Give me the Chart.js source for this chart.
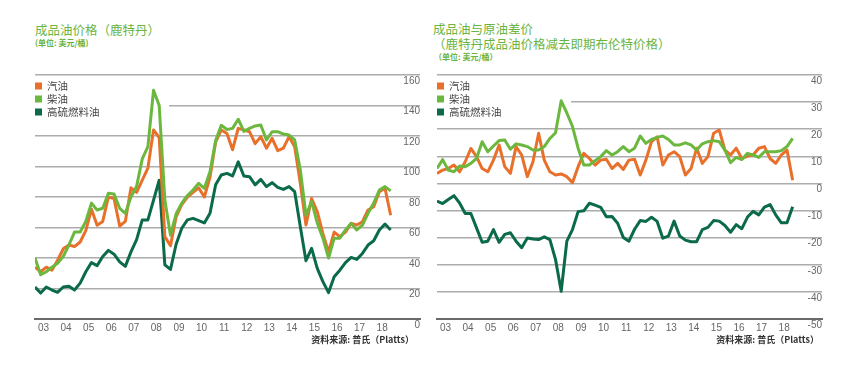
<!DOCTYPE html>
<html>
<head>
<meta charset="utf-8">
<script src="https://cdn.jsdelivr.net/npm/chart.js@4.4.0/dist/chart.umd.min.js"></script>
<style>
  body { margin: 0; width: 865px; height: 369px; background: #fff; position: relative; overflow: hidden;
         font-family: "Noto Sans CJK SC", "Noto Sans", sans-serif; }
  .title { position: absolute; color: #6ab43f; font-size: 12.5px; line-height: 15px; white-space: nowrap; }
  .unit { position: absolute; color: #6ab43f; font-size: 8px; line-height: 10px; white-space: nowrap; font-weight: bold; }
  .src { position: absolute; color: #333; font-size: 9px; line-height: 11px; white-space: nowrap; text-align: right; font-weight: bold; }
  canvas { position: absolute; top: 0; }
</style>
</head>
<body>
<div class="title" style="left:35px; top:22px;">成品油价格（鹿特丹）</div>
<div class="unit" style="left:35px; top:38px;">(单位: 美元/桶)</div>
<div class="title" style="left:433px; top:21px;">成品油与原油差价<br>（鹿特丹成品油价格减去即期布伦特价格）</div>
<div class="unit" style="left:434px; top:52px;">（单位: 美元/桶）</div>

<canvas id="leftChart" width="430" height="369" style="left:0"></canvas>
<canvas id="rightChart" width="435" height="369" style="left:430px"></canvas>

<div class="src" style="right:451px; top:334px;">资料来源: 普氏（Platts）</div>
<div class="src" style="right:46px; top:334px;">资料来源: 普氏（Platts）</div>

<script>
// quarterly, 2003Q1 .. 2018Q4
const quarters = [];
for (let y = 2003; y <= 2018; y++) for (let q = 1; q <= 4; q++) quarters.push(y + 'Q' + q);
const yearTicks = ['03','04','05','06','07','08','09','10','11','12','13','14','15','16','17','18'];
const seriesNames = ['汽油', '柴油', '高硫燃料油'];

// left: product prices, Rotterdam (USD/bbl)
const leftGasoline = [34,31,34,32,38.5,46,48.5,47.5,50.5,58, 72,61.5,64,80,79,61,64,86,83,91,
  99,124,119,54,48,67,75,80,83,86, 80,93,116,124,121.7,111,125,124,122.8,115,
  119.6,112,118.5,110.4,112,119.6,113,89,61.6,79, 70.4,56,44,57,54,57,62.7,61.6,63.8,71.5, 73.6,83.5,85.7,68];
const leftDiesel = [40,29,31,34,36.5,41,48.5,57,57,64, 76,71.5,72.6,82.4,82,72.6,69.3,80,87,105,
  113,150,140,78,55,69,76,81,84.6,89, 85.7,96.6,117,127,124.3,125,131,123,125,126.6,
  127.2,117.4,122.8,122.8,121.3,120.6,117.4,97.7,68,77, 63,53,40,53,53,58.4,62.7,58.4,61.6,69.3, 76,84.6,86.8,84];
const leftFuelOil = [21,17,21,19,17.5,21,21.5,19,23.5,31, 37,35,41,45,42.5,37.5,34.5,44,52,65,
  65,78,91,35.5,32.5,49,59.5,65,66,64.5, 63,69.3,88,94.4,95.5,93.8,103,93.8,93.3,88,
  91.6,86.8,89.4,86.3,85,86.8,83.5,60.5,38.2,46.3, 33.2,24.5,17.3,27.7,32,37,40.4,39.1,43,48.5, 51.3,58.4,62.3,58.4];

// right: product minus dated Brent (USD/bbl)
const rightGasoline = [3.7,4.9,5.5,6.8,4.3,8,12.9,9.9,5.5,4.3, 8.6,14.2,6.2,3.7,13.6,10.5,2.5,8,18.5,8.6,
  4.3,3.1,3.5,2.5,0.3,6.2,11.1,9.2,6.8,8.6, 8.9,5.5,7.4,5.2,8.6,8.9,3.1,8.6,15.4,17.2,
  6.8,10.5,11.7,9.9,3.1,5.5,13,7.4,9.9,18.5, 19.7,12.3,10.5,13,9.2,10.1,10.5,13,13.6,9.2, 7.4,10.5,12.3,1.2];
const rightDiesel = [5.5,8.8,4.9,4.3,6.4,6.2,7.4,9.2,15.4,11.7, 13.8,15.8,16,12.6,14.6,14.2,13.6,12.3,12.3,13.6,
  16.6,18.7,30.5,26,21,13,6.8,6.8,8.4,9.9, 12.1,10.5,11.7,13.6,11.7,13,17.5,14.8,16.2,17,
  17.5,16.2,14.2,14.2,15,14.2,12.3,14.6,15.4,15.8, 15.4,12.3,7.7,9.6,8.8,11.1,10.5,9.6,11.7,11.7, 11.7,12.1,13.6,16.6];
const rightFuelOil = [-6.5,-7.4,-5.9,-4.5,-7.2,-11.1,-11.1,-16.4,-21.7,-21.3, -17,-21.7,-18.8,-18.2,-21.3,-23.7,-20.1,-20.5,-20.7,-19.7,
  -20.7,-28.1,-39.8,-21.3,-17,-10.4,-10.1,-7.3,-8,-8.8, -12.3,-12.2,-14.7,-19.9,-21.3,-16.9,-13.7,-14,-12.5,-14,
  -20.2,-19.4,-13.9,-19.4,-20.9,-21.5,-21.5,-17,-16.2,-13.7, -13.9,-15.5,-18,-15.2,-16.7,-12.4,-10.3,-11.6,-8.7,-7.8, -11.6,-14.5,-14.5,-8.6];

const colors = ['#e8702a', '#6cb83f', '#0b6a48'];

// white box under the legend (hides the grid line behind it), then the legend itself
const innerLegend = {
  id: 'innerLegend',
  beforeDatasetsDraw(chart) {
    const { ctx, chartArea: a } = chart;
    ctx.save();
    ctx.fillStyle = '#fff';
    ctx.fillRect(a.left, a.top + 4, 134, 40);
    ctx.font = '10.5px "Noto Sans CJK SC"';
    ctx.textBaseline = 'middle';
    seriesNames.forEach((name, k) => {
      const y = a.top + 11 + k * 13;
      ctx.fillStyle = colors[k];
      ctx.fillRect(a.left, y - 3.5, 7, 7);
      ctx.fillStyle = '#444';
      ctx.fillText(name, a.left + 12, y);
    });
    ctx.restore();
  }
};

function toPoints(values) {
  return values.map((v, i) => ({ x: i, y: v }));
}

function makeChart(id, series, yMin, yMax, yStep, padding) {
  const datasets = series.map((vals, k) => ({
    label: seriesNames[k],
    data: toPoints(vals),
    borderColor: colors[k],
    backgroundColor: colors[k],
    borderWidth: 3,
    pointRadius: 0,
    tension: 0,
    borderJoinStyle: 'round',
    order: [1, 0, 2][k]
  }));

  return new Chart(document.getElementById(id), {
    type: 'line',
    data: { datasets },
    options: {
      responsive: false,
      animation: false,
      layout: { padding },
      plugins: { legend: { display: false }, tooltip: { enabled: false } },
      scales: {
        x: {
          type: 'linear', min: 0, max: 68.2,
          afterBuildTicks: s => { s.ticks = yearTicks.map((t, k) => ({ value: 1.5 + 4 * k })); },
          afterFit: s => { s.height = 20; },
          ticks: {
            autoSkip: false, maxRotation: 0, padding: 3,
            color: '#666', font: { family: 'Liberation Sans', size: 10 },
            callback: (v, k) => yearTicks[k]
          },
          grid: { display: false, drawTicks: false },
          border: { display: true, color: '#6a6a6a', width: 2 }
        },
        y: {
          position: 'right', min: yMin, max: yMax,
          afterFit: s => { s.width = 0; },
          ticks: {
            stepSize: yStep, mirror: true, padding: 0, labelOffset: 6,
            color: '#666', font: { family: 'Liberation Sans', size: 10 }
          },
          grid: {
            drawTicks: false,
            color: c => c.index === 0 ? '#6a6a6a' : '#acacac',
            lineWidth: c => c.index === 0 ? 2 : 1.5
          },
          border: { display: false }
        }
      }
    },
    plugins: [innerLegend]
  });
}

makeChart('leftChart', [leftGasoline, leftDiesel, leftFuelOil], 0, 160, 20,
  { left: 35, right: 10, top: 75, bottom: 30 });
makeChart('rightChart', [rightGasoline, rightDiesel, rightFuelOil], -50, 40, 10,
  { left: 7, right: 43, top: 75, bottom: 30 });
</script>
</body>
</html>
